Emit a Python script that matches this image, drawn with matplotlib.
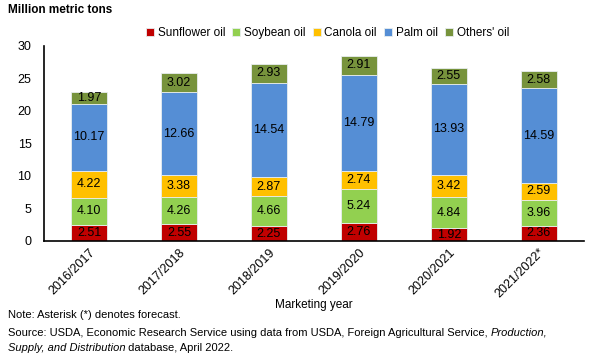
import numpy as np
import matplotlib
matplotlib.use("Agg")
import matplotlib.pyplot as plt

plt.rcParams['font.family'] = ['Liberation Sans', 'DejaVu Sans']

years = ['2016/2017', '2017/2018', '2018/2019', '2019/2020', '2020/2021', '2021/2022*']
sunflower = [2.51, 2.55, 2.25, 2.76, 1.92, 2.36]
soybean = [4.10, 4.26, 4.66, 5.24, 4.84, 3.96]
canola = [4.22, 3.38, 2.87, 2.74, 3.42, 2.59]
palm = [10.17, 12.66, 14.54, 14.79, 13.93, 14.59]
others = [1.97, 3.02, 2.93, 2.91, 2.55, 2.58]

series = [('Sunflower oil', sunflower, '#C00000'),
          ('Soybean oil', soybean, '#92D050'),
          ('Canola oil', canola, '#FFC000'),
          ('Palm oil', palm, '#558ED5'),
          ("Others' oil", others, '#77933C')]

fig = plt.figure(figsize=(5.95, 3.64), dpi=100)
ax = fig.add_axes([0.074, 0.338, 0.907, 0.536])

x = np.arange(len(years))
bottom = np.zeros(len(years))
for name, vals, col in series:
    vals = np.array(vals)
    ax.bar(x, vals, 0.4, bottom=bottom, color=col, edgecolor='#e8eef0',
           linewidth=0.6, label=name)
    for xi, b, v in zip(x, bottom, vals):
        ax.text(xi, b + v / 2, '%.2f' % v, ha='center', va='center',
                fontsize=9, color='black')
    bottom += vals

ax.set_xlim(-0.5, len(years) - 0.5)
ax.set_ylim(0, 30)
ax.set_yticks(range(0, 31, 5))
ax.set_xticks(x)
ax.set_xticklabels(years, rotation=45, ha='right', rotation_mode='anchor', fontsize=9)
ax.tick_params(axis='y', length=0, labelsize=9, pad=9)
ax.tick_params(axis='x', length=0, pad=4)
for s in ['top', 'right']:
    ax.spines[s].set_visible(False)
ax.spines['left'].set_linewidth(1.2)
ax.spines['bottom'].set_linewidth(1.2)

ax.set_xlabel('Marketing year', fontsize=8.5, labelpad=-1)

ax.legend(loc='lower center', bbox_to_anchor=(0.525, 1.0), ncol=5, frameon=False,
          fontsize=8.5, handlelength=0.7, handleheight=0.7, handletextpad=0.3,
          columnspacing=0.6, borderaxespad=0.2)

fig.text(0.013, 0.965, 'Million metric tons', fontsize=8.5, fontweight='bold')
fig.text(0.013, 0.125, 'Note: Asterisk (*) denotes forecast.', fontsize=8)
t1 = fig.text(0.013, 0.077, 'Source: USDA, Economic Research Service using data from USDA, '
              'Foreign Agricultural Service, ', fontsize=8)
ax.annotate('Production,', xy=(1, 0), xycoords=t1, va='bottom', fontsize=8,
            fontstyle='italic')
t2 = fig.text(0.013, 0.036, 'Supply, and Distribution', fontsize=8, fontstyle='italic')
ax.annotate(' database, April 2022.', xy=(1, 0), xycoords=t2, va='bottom', fontsize=8)

fig.savefig('out.png', dpi=100)
